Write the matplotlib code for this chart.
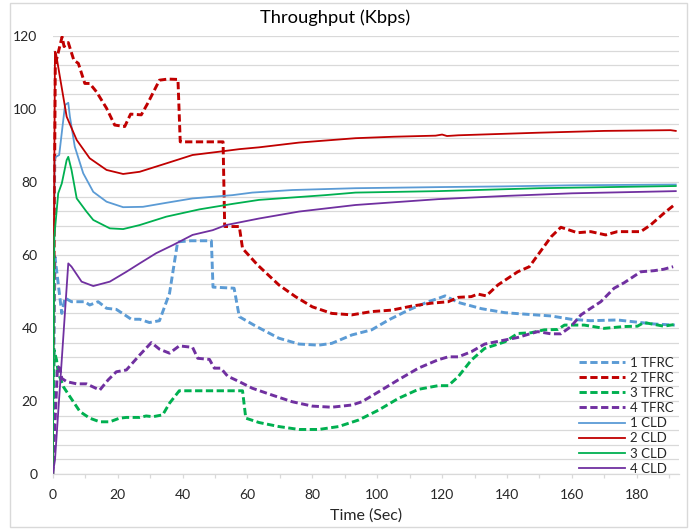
import matplotlib
matplotlib.use("Agg")
import matplotlib.pyplot as plt
from matplotlib.patches import Rectangle
import numpy as np

plt.rcParams['font.family'] = ['Lato', 'DejaVu Sans']

# ---- data: time (s) and throughput (Kbps) per flow ----
t_tfrc1 = [0, 0.7, 2.8, 3.8, 5.8, 9.9, 11.4, 14.0, 16.6, 19.6, 22.2, 24.2, 26.8, 29.8, 32.9, 36.0,
           38.5, 42.6, 48.9, 49.4, 55.9, 57.5, 62.6, 69.7, 75.9, 82.0, 86.0, 92.2, 98.3, 103.5,
           109.6, 115.7, 118.8, 120.9, 125.0, 132.1, 139.3, 145.4, 153.6, 159.7, 165.8, 174.0,
           180.1, 185.3, 191.7]
v_tfrc1 = [0, 59.5, 44.0, 48.2, 47.2, 47.2, 46.3, 47.2, 45.4, 45.1, 43.6, 42.4, 42.4, 41.5, 42.0, 49.5,
           63.6, 63.9, 63.9, 51.2, 50.9, 43.1, 40.5, 37.2, 35.6, 35.3, 35.8, 38.1, 39.5, 42.2,
           44.9, 47.2, 48.1, 48.8, 47.0, 45.3, 44.2, 43.8, 43.3, 42.4, 42.0, 42.2,
           41.6, 41.1, 40.8]

t_tfrc2 = [0, 0.8, 1.0, 2.9, 3.5, 4.8, 6.5, 7.9, 9.9, 11.4, 13.5, 16.6, 19.1, 22.2, 24.0, 27.3, 29.3,
           32.9, 35.5, 38.6, 39.3, 52.5, 53.0, 57.5, 58.5, 63.1, 69.7, 74.8, 80.0, 86.0, 92.2, 98.3,
           104.5, 110.6, 116.7, 121.9, 125.0, 129.0, 131.0, 133.6, 137.2, 143.3, 146.9, 149.5,
           153.6, 156.6, 161.7, 165.8, 170.4, 174.0, 181.2, 184.2, 188.3, 191.5]
v_tfrc2 = [0, 112.0, 112.9, 119.8, 117.1, 118.2, 113.4, 112.5, 107.0, 107.0, 104.7, 100.2, 95.6, 95.2, 98.6, 98.4, 101.6,
           107.9, 108.2, 108.1, 91.0, 91.0, 67.8, 67.8, 61.8, 57.3, 51.8, 48.6, 45.8, 44.0, 43.6, 44.5,
           44.9, 46.0, 46.8, 47.2, 48.4, 48.6, 49.3, 48.8, 51.8, 55.4, 56.8, 60.0,
           65.0, 67.6, 66.1, 66.4, 65.5, 66.4, 66.4, 68.2, 71.4, 73.7]

t_tfrc3 = [0, 0.4, 1.2, 1.7, 3.3, 5.3, 8.4, 11.4, 14.5, 17.6, 20.6, 22.7, 26.8, 28.8, 30.9, 33.9, 36.0,
           39.0, 58.5, 59.5, 63.6, 69.7, 75.9, 82.0, 88.1, 94.3, 100.4, 106.5, 112.7, 118.8, 121.9,
           125.0, 129.0, 133.1, 136.2, 139.3, 143.3, 147.4, 151.5, 155.6, 157.7, 163.8, 169.9,
           176.1, 180.2, 182.2, 188.3, 191.9]
v_tfrc3 = [0, 34.0, 31.2, 27.7, 23.9, 21.2, 17.1, 15.3, 14.3, 14.3, 15.3, 15.5, 15.5, 15.9, 15.7, 16.2, 19.4,
           22.8, 22.8, 15.3, 14.1, 13.0, 12.2, 12.2, 13.0, 14.8, 17.5, 20.7, 23.2, 24.2, 24.2,
           26.7, 31.2, 34.4, 35.3, 36.2, 38.5, 38.7, 39.5, 39.6, 40.8, 40.8, 39.9,
           40.4, 40.5, 41.5, 40.5, 41.0]

t_tfrc4 = [0, 1.5, 2.2, 2.8, 4.3, 7.4, 10.4, 14.5, 17.1, 19.6, 22.7, 26.8, 30.4, 32.9, 36.0, 39.0,
           43.1, 44.7, 48.3, 49.8, 51.8, 53.9, 57.5, 61.5, 67.7, 73.8, 80.0, 86.0, 92.2, 95.3,
           100.4, 106.5, 112.7, 118.8, 121.9, 125.0, 129.0, 133.1, 139.3, 143.3, 147.4, 149.5,
           153.6, 156.6, 159.7, 162.8, 165.8, 168.9, 173.0, 176.1, 181.2, 185.3, 188.3, 191.2]
v_tfrc4 = [0, 29.5, 29.0, 26.2, 25.3, 24.7, 24.7, 23.0, 25.8, 28.0, 28.5, 32.6, 36.0, 34.2, 33.1, 35.1,
           34.7, 31.7, 31.4, 29.0, 29.0, 26.8, 25.3, 23.5, 21.6, 19.8, 18.6, 18.3, 18.9, 19.8,
           22.5, 25.8, 29.0, 31.3, 32.1, 32.1, 33.5, 35.6, 36.7, 37.4, 38.5, 39.0,
           38.4, 38.4, 40.4, 43.6, 45.4, 47.2, 50.9, 52.4, 55.4, 55.7, 56.1, 56.8]

t_cld1 = [0, 0.6, 1.0, 2.0, 3.8, 4.8, 5.3, 6.8, 9.4, 12.5, 16.6, 21.7, 27.8, 35.0, 43.1, 55.4,
          61.5, 73.8, 93.3, 118.8, 139.3, 160.0, 192.0]
v_cld1 = [0, 86.0, 86.9, 87.4, 101.1, 101.7, 97.9, 89.7, 82.4, 77.3, 74.6, 73.1, 73.2, 74.3, 75.5, 76.4,
          77.1, 77.8, 78.3, 78.6, 78.8, 79.1, 79.3]

t_cld2 = [0, 0.7, 1.0, 2.2, 4.3, 7.4, 11.4, 16.6, 21.7, 26.8, 35.0, 43.1, 51.3, 57.5, 63.6, 75.9,
          93.3, 105.0, 118.0, 120.0, 121.5, 125.0, 149.5, 170.0, 190.4, 192.0]
v_cld2 = [0, 115.7, 115.3, 108.9, 97.9, 91.5, 86.5, 83.3, 82.2, 82.8, 85.1, 87.4, 88.3, 89.0, 89.5, 90.8,
          92.0, 92.4, 92.7, 93.0, 92.6, 92.8, 93.5, 94.0, 94.2, 94.0]

t_cld3 = [0, 0.5, 1.7, 2.8, 4.3, 4.8, 5.8, 7.4, 10.4, 12.5, 17.6, 21.7, 26.8, 35.0, 45.2, 55.4,
          63.6, 84.0, 93.3, 118.8, 150.0, 192.0]
v_cld3 = [0, 65.0, 76.9, 79.6, 86.0, 86.9, 83.3, 75.5, 71.9, 69.6, 67.3, 67.1, 68.2, 70.5, 72.5, 74.0,
          75.1, 76.4, 77.1, 77.5, 78.3, 78.9]

t_cld4 = [0, 0.7, 4.8, 5.8, 8.9, 12.5, 17.6, 22.7, 26.8, 31.9, 37.0, 43.1, 49.3, 53.4, 63.6, 75.9,
          93.3, 118.8, 140.0, 160.0, 192.0]
v_cld4 = [0, 3.8, 57.7, 56.8, 52.7, 51.5, 52.7, 55.4, 57.7, 60.5, 62.7, 65.5, 66.8, 68.2, 70.0, 71.9,
          73.7, 75.3, 76.2, 76.9, 77.5]

series_labels = ["1 TFRC", "2 TFRC", "3 TFRC", "4 TFRC", "1 CLD", "2 CLD", "3 CLD", "4 CLD"]
x_tick_labels = ["0", "20", "40", "60", "80", "100", "120", "140", "160", "180"]
y_tick_labels = ["0", "20", "40", "60", "80", "100", "120"]

# ---- styling ----
BLUE, RED, GREEN, PURPLE = "#5b9bd5", "#c00000", "#00b050", "#7030a0"
GRID = "#d9d9d9"
TEXT = "#262626"

fig = plt.figure(figsize=(6.9, 5.29), dpi=100)
W, H = 690, 529
ax = fig.add_axes([52.7 / W, (H - 474) / H, (679 - 52.7) / W, (474 - 36) / H])

tfrc = [(t_tfrc1, v_tfrc1, BLUE), (t_tfrc2, v_tfrc2, RED),
        (t_tfrc3, v_tfrc3, GREEN), (t_tfrc4, v_tfrc4, PURPLE)]
cld = [(t_cld1, v_cld1, BLUE), (t_cld2, v_cld2, RED),
       (t_cld3, v_cld3, GREEN), (t_cld4, v_cld4, PURPLE)]

handles = []
for (t, v, c), lab in zip(tfrc, series_labels[:4]):
    h, = ax.plot(t, v, color=c, lw=2.1, linestyle=(0, (2.5, 1.2)),
                 solid_joinstyle="round", dash_capstyle="butt", label=lab)
    handles.append(h)
for (t, v, c), lab in zip(cld, series_labels[4:]):
    h, = ax.plot(t, v, color=c, lw=1.3, label=lab)
    handles.append(h)

ax.set_xlim(0, 193)
ax.set_ylim(0, 120)

ax.set_yticks(np.arange(0, 121, 20))
ax.set_yticklabels(y_tick_labels)
ax.set_yticks(np.arange(0, 121, 4), minor=True)
ax.set_xticks(np.arange(0, 181, 20))
ax.set_xticklabels(x_tick_labels)
ax.set_xticks(np.arange(10, 191, 20), minor=True)

ax.grid(True, axis="y", which="both", color=GRID, lw=0.9)
ax.set_axisbelow(True)
for s in ("top", "right", "left"):
    ax.spines[s].set_visible(False)
ax.spines["bottom"].set_color(GRID)
ax.spines["bottom"].set_linewidth(0.9)

ax.tick_params(axis="y", which="both", length=0, pad=11, labelsize=10, labelcolor=TEXT)
ax.tick_params(axis="x", which="both", direction="out", length=3, color=GRID, width=0.9,
               pad=8, labelsize=10, labelcolor=TEXT)

fig.text(335 / W, 1 - 18 / H, "Throughput (Kbps)", ha="center", va="center",
         fontsize=13.2, color="#000000")
fig.text(366 / W, 1 - 516 / H, "Time (Sec)", ha="center", va="center",
         fontsize=11.5, color=TEXT)

ax.legend(handles=handles, loc="upper left", bbox_to_anchor=(572 / W, 1 - 350 / H),
          bbox_transform=fig.transFigure, frameon=False, fontsize=9.5,
          handlelength=3.5, handletextpad=0.4, labelspacing=0.24, borderpad=0,
          labelcolor=TEXT)

fig.patches.append(Rectangle((10 / W, 2 / H), (687 - 10) / W, (526 - 2) / H,
                             transform=fig.transFigure, fill=False, ec=GRID, lw=1))

fig.savefig("out.png", dpi=100)
